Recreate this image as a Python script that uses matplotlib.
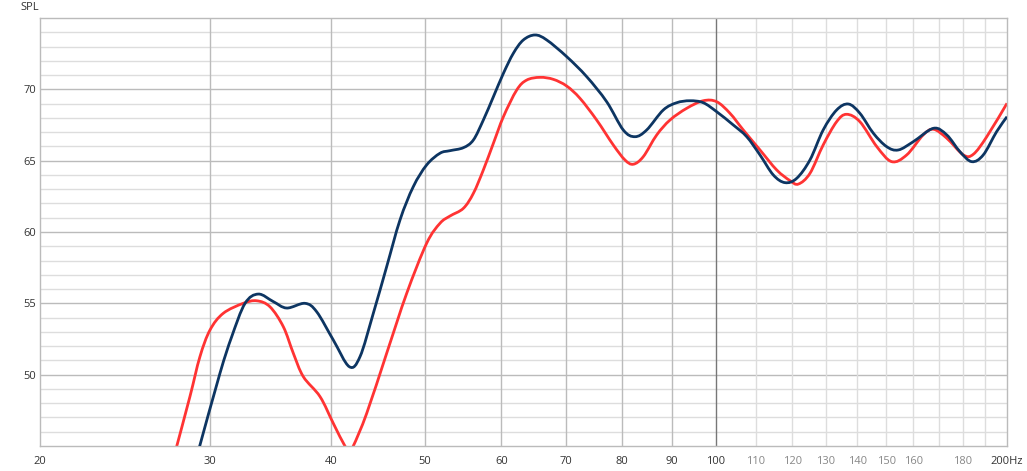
import numpy as np
import matplotlib
matplotlib.use("Agg")
import matplotlib.pyplot as plt
from matplotlib.path import Path
from matplotlib.patches import PathPatch
from matplotlib.ticker import FixedLocator

# frequency response (Hz, dB SPL)
blue_freq = [29.2, 30.70, 31.57, 32.59, 33.64, 34.86, 35.99, 37.59, 38.65, 40.21,
             41.77, 42.85, 44.23, 45.66, 47.13, 48.65, 50.22, 51.84, 53.09, 54.81,
             56.13, 57.48, 58.87, 60.29, 61.74, 63.22, 65.01, 66.84, 70.10, 73.51,
             77.10, 80.21, 82.47, 84.80, 88.22, 91.08, 94.01, 97.04, 100.19, 104.23,
             107.61, 111.07, 114.64, 117.88, 121.2, 125.1, 129.1, 133.3, 137.1, 140.9,
             145.5, 150.2, 154.4, 160.0, 167.9, 173.3, 178.8, 183.9, 189.0, 195.1, 200.0]
blue_spl = [44.8, 50.10, 52.66, 55.00, 55.65, 55.12, 54.67, 55.00, 54.41, 52.43,
            50.56, 51.26, 54.30, 57.57, 60.84, 63.18, 64.70, 65.52, 65.70, 65.91,
            66.45, 67.85, 69.48, 71.12, 72.53, 73.46, 73.81, 73.46, 72.29, 70.89,
            69.13, 67.15, 66.68, 67.15, 68.55, 69.06, 69.20, 69.06, 68.43, 67.50,
            66.68, 65.40, 64.00, 63.46, 63.76, 65.05, 67.15, 68.55, 68.97, 68.32,
            66.92, 65.98, 65.75, 66.33, 67.27, 66.80, 65.63, 64.93, 65.40, 67.03, 68.08]

red_freq = [27.6, 28.58, 29.27, 29.98, 30.94, 32.45, 33.51, 34.58, 35.70, 36.56,
            37.44, 38.96, 40.21, 41.34, 41.79, 42.17, 43.54, 45.66, 47.89, 50.22,
            51.84, 53.09, 54.81, 56.13, 57.48, 58.87, 60.29, 62.23, 63.73, 65.79,
            67.90, 70.10, 72.35, 75.28, 78.32, 80.53, 82.14, 84.12, 86.85, 89.65,
            93.28, 97.04, 100.19, 103.41, 106.74, 111.07, 115.57, 119.3, 121.7, 125.1,
            129.1, 133.3, 136.5, 140.9, 146.7, 152.0, 157.5, 163.8, 167.9, 173.3,
            180.3, 184.6, 190.6, 200.0]
red_spl = [44.6, 48.46, 51.26, 53.13, 54.30, 55.00, 55.18, 54.76, 53.36, 51.50,
           49.86, 48.46, 46.59, 45.00, 44.72, 45.00, 47.29, 51.50, 55.70, 59.21,
           60.61, 61.12, 61.66, 62.71, 64.35, 66.22, 68.08, 69.95, 70.65, 70.84,
           70.70, 70.23, 69.37, 67.85, 66.10, 65.05, 64.75, 65.28, 66.80, 67.85,
           68.67, 69.20, 69.13, 68.32, 67.15, 65.75, 64.35, 63.60, 63.36, 64.11,
           66.10, 67.73, 68.25, 67.73, 65.98, 64.93, 65.40, 66.80, 67.20, 66.57,
           65.40, 65.45, 66.68, 69.02]

x_major = [20, 30, 40, 50, 60, 70, 80, 90, 100, 200]
x_major_labels = ["20", "30", "40", "50", "60", "70", "80", "90", "100", "200Hz"]
x_minor = [110, 120, 130, 140, 150, 160, 170, 180, 190]
x_minor_labels = ["110", "120", "130", "140", "150", "160", "", "180", ""]
y_ticks = [50, 55, 60, 65, 70]


def smooth_path(freq, spl):
    # curved segments through the measured points (Catmull-Rom style handles in log-f space)
    lx = np.log10(freq)
    y = np.asarray(spl, dtype=float)
    n = len(lx)
    verts = [(freq[0], y[0])]
    codes = [Path.MOVETO]
    for i in range(n - 1):
        i0, i3 = max(i - 1, 0), min(i + 2, n - 1)
        c1x = lx[i] + (lx[i + 1] - lx[i0]) / 6
        c1y = y[i] + (y[i + 1] - y[i0]) / 6
        c2x = lx[i + 1] - (lx[i3] - lx[i]) / 6
        c2y = y[i + 1] - (y[i3] - y[i]) / 6
        verts += [(10 ** c1x, c1y), (10 ** c2x, c2y), (freq[i + 1], y[i + 1])]
        codes += [Path.CURVE4] * 3
    return Path(verts, codes)


plt.rcParams["font.family"] = ["Open Sans", "DejaVu Sans"]

fig = plt.figure(figsize=(10.27, 4.71), dpi=100)
ax = fig.add_axes([40 / 1027, 25 / 471, 967 / 1027, 428 / 471])
ax.set_xscale("log")
ax.set_xlim(20, 200)
ax.set_ylim(45, 75)

# grid
for yv in range(46, 75):
    ax.axhline(yv, color="#bbbbbb" if yv % 5 == 0 else "#dddddd", lw=1, zorder=0)
for f in x_major[1:-1]:
    ax.axvline(f, color="#777777" if f == 100 else "#bbbbbb", lw=1, zorder=0)
for f in x_minor:
    ax.axvline(f, color="#dddddd", lw=1, zorder=0)

ax.add_patch(PathPatch(smooth_path(red_freq, red_spl), fill=False,
                       edgecolor="#ff3333", lw=2, zorder=2))
ax.add_patch(PathPatch(smooth_path(blue_freq, blue_spl), fill=False,
                       edgecolor="#0d3562", lw=2, zorder=3))

ax.xaxis.set_major_locator(FixedLocator(x_major))
ax.set_xticklabels(x_major_labels)
ax.set_xticks(x_minor, labels=x_minor_labels, minor=True)
ax.set_yticks(y_ticks)
ax.set_yticklabels([str(v) for v in y_ticks])
ax.tick_params(axis="both", which="both", length=0, labelsize=8, colors="#333333", pad=7)
ax.tick_params(axis="x", which="minor", labelcolor="#888888")
ax.tick_params(axis="y", pad=3)

for s in ax.spines.values():
    s.set_color("#bbbbbb")
    s.set_linewidth(1)

fig.text(20 / 1027, 1 - 8 / 471, "SPL", fontsize=8, color="#333333", va="center", ha="left")

fig.savefig("out.png", dpi=100)
